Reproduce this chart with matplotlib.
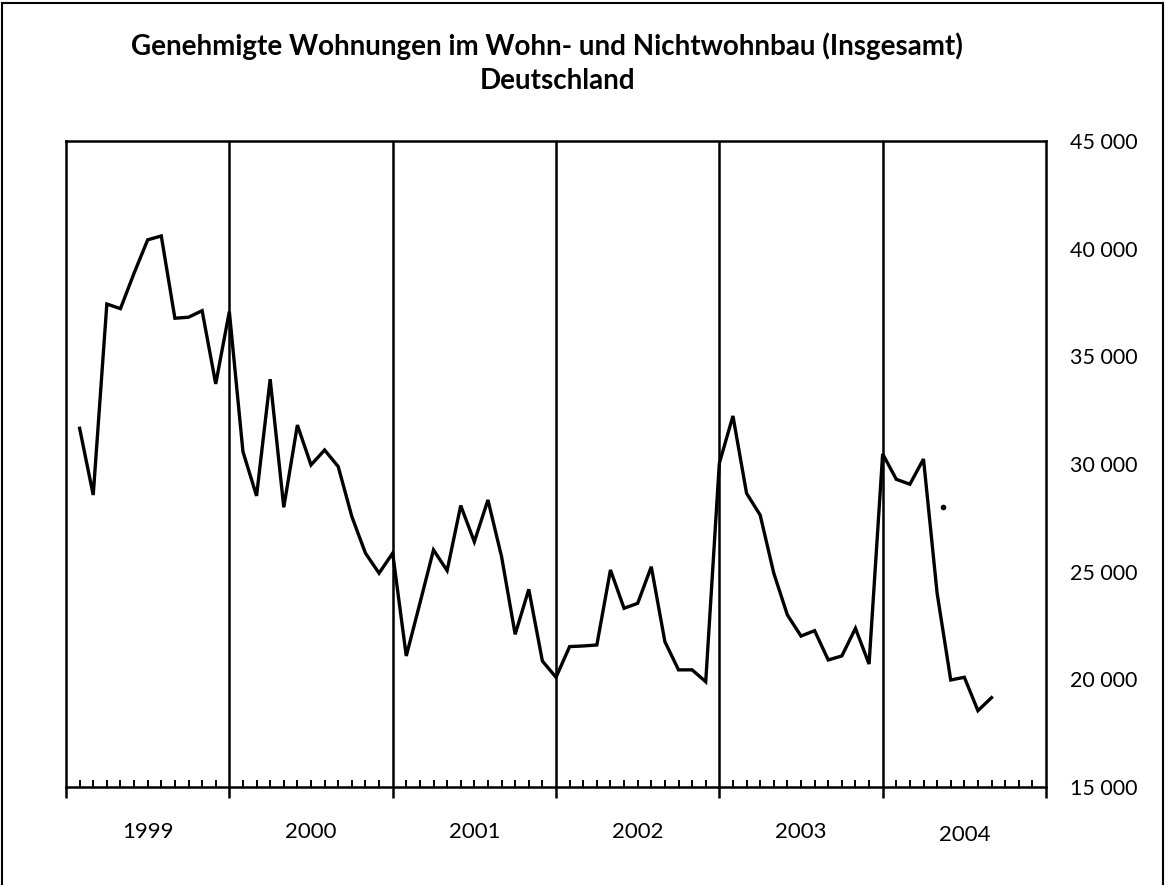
import numpy as np
import matplotlib
matplotlib.use("Agg")
import matplotlib.pyplot as plt
from matplotlib.patches import Rectangle

# monthly values, Jan 1999 .. Aug 2004
werte_1999 = [31660, 28560, 37430, 37215, 38860, 40410, 40590, 36770, 36815, 37120, 33720, 37080]
werte_2000 = [30575, 28520, 33940, 27990, 31810, 29955, 30650, 29880, 27560, 25860, 24930, 25860]
werte_2001 = [21085, 23530, 26010, 25050, 28070, 26390, 28330, 25700, 22090, 24180, 20850, 20095]
werte_2002 = [21520, 21550, 21595, 25080, 23300, 23530, 25230, 21750, 20440, 20440, 19890, 30035]
werte_2003 = [32230, 28640, 27630, 24930, 22990, 22010, 22260, 20900, 21085, 22370, 20710, 30470]
werte_2004 = [29290, 29060, 30230, 24000, 19970, 20095, 18545, 19150]
jahre = ["1999", "2000", "2001", "2002", "2003", "2004"]
y_ticks = [15000, 20000, 25000, 30000, 35000, 40000, 45000]
# stray dot in the scan
punkt_x, punkt_y = [64.4], [28000]

werte = werte_1999 + werte_2000 + werte_2001 + werte_2002 + werte_2003 + werte_2004
monate = np.arange(1, len(werte) + 1)

plt.rcParams['font.family'] = ['Lato', 'DejaVu Sans']

fig = plt.figure(figsize=(11.66, 8.85), dpi=100)
ax = fig.add_axes([66/1166, 1 - 787/885, (1046 - 66)/1166, (787 - 141)/885])

ax.plot(monate, werte, color='black', linewidth=2.4, solid_joinstyle='miter')
ax.plot(punkt_x, punkt_y, 'o', color='black', markersize=3)

for k in range(1, len(jahre)):
    ax.axvline(12 * k, color='black', linewidth=1.8)

ax.set_xlim(0, 72)
ax.set_ylim(15000, 45000)

ax.set_xticks(np.arange(0, 73, 12))
ax.set_xticks(np.arange(0, 73, 1), minor=True)
ax.set_xticklabels([])
ax.tick_params(axis='x', which='major', direction='out', length=8, width=1.8)
ax.tick_params(axis='x', which='minor', direction='in', length=5, width=1.4)
for k, j in enumerate(jahre):
    ax.text(12 * k + 6, -0.07 if k != 5 else -0.075, j, ha='center', va='center', fontsize=16,
            transform=ax.get_xaxis_transform())

ax.yaxis.tick_right()
ax.set_yticks(y_ticks)
ax.set_yticklabels([f"{v:,}".replace(",", " ") for v in y_ticks], fontsize=15.5)
ax.tick_params(axis='y', length=0, pad=17)

for s in ax.spines.values():
    s.set_linewidth(1.8)

fig.text(0.4695, 1 - 46/885, "Genehmigte Wohnungen im Wohn- und Nichtwohnbau (Insgesamt)",
         ha='center', va='center', fontsize=20, fontweight='bold')
fig.text(0.4786, 1 - 81/885, "Deutschland", ha='center', va='center', fontsize=20, fontweight='bold')

# outer frame
fig.patches.append(Rectangle((2/1166, -0.05), 1161/1166, 1.05 - 3/885, transform=fig.transFigure,
                             fill=False, edgecolor='black', linewidth=1.5))

fig.savefig("out.png", dpi=100)
